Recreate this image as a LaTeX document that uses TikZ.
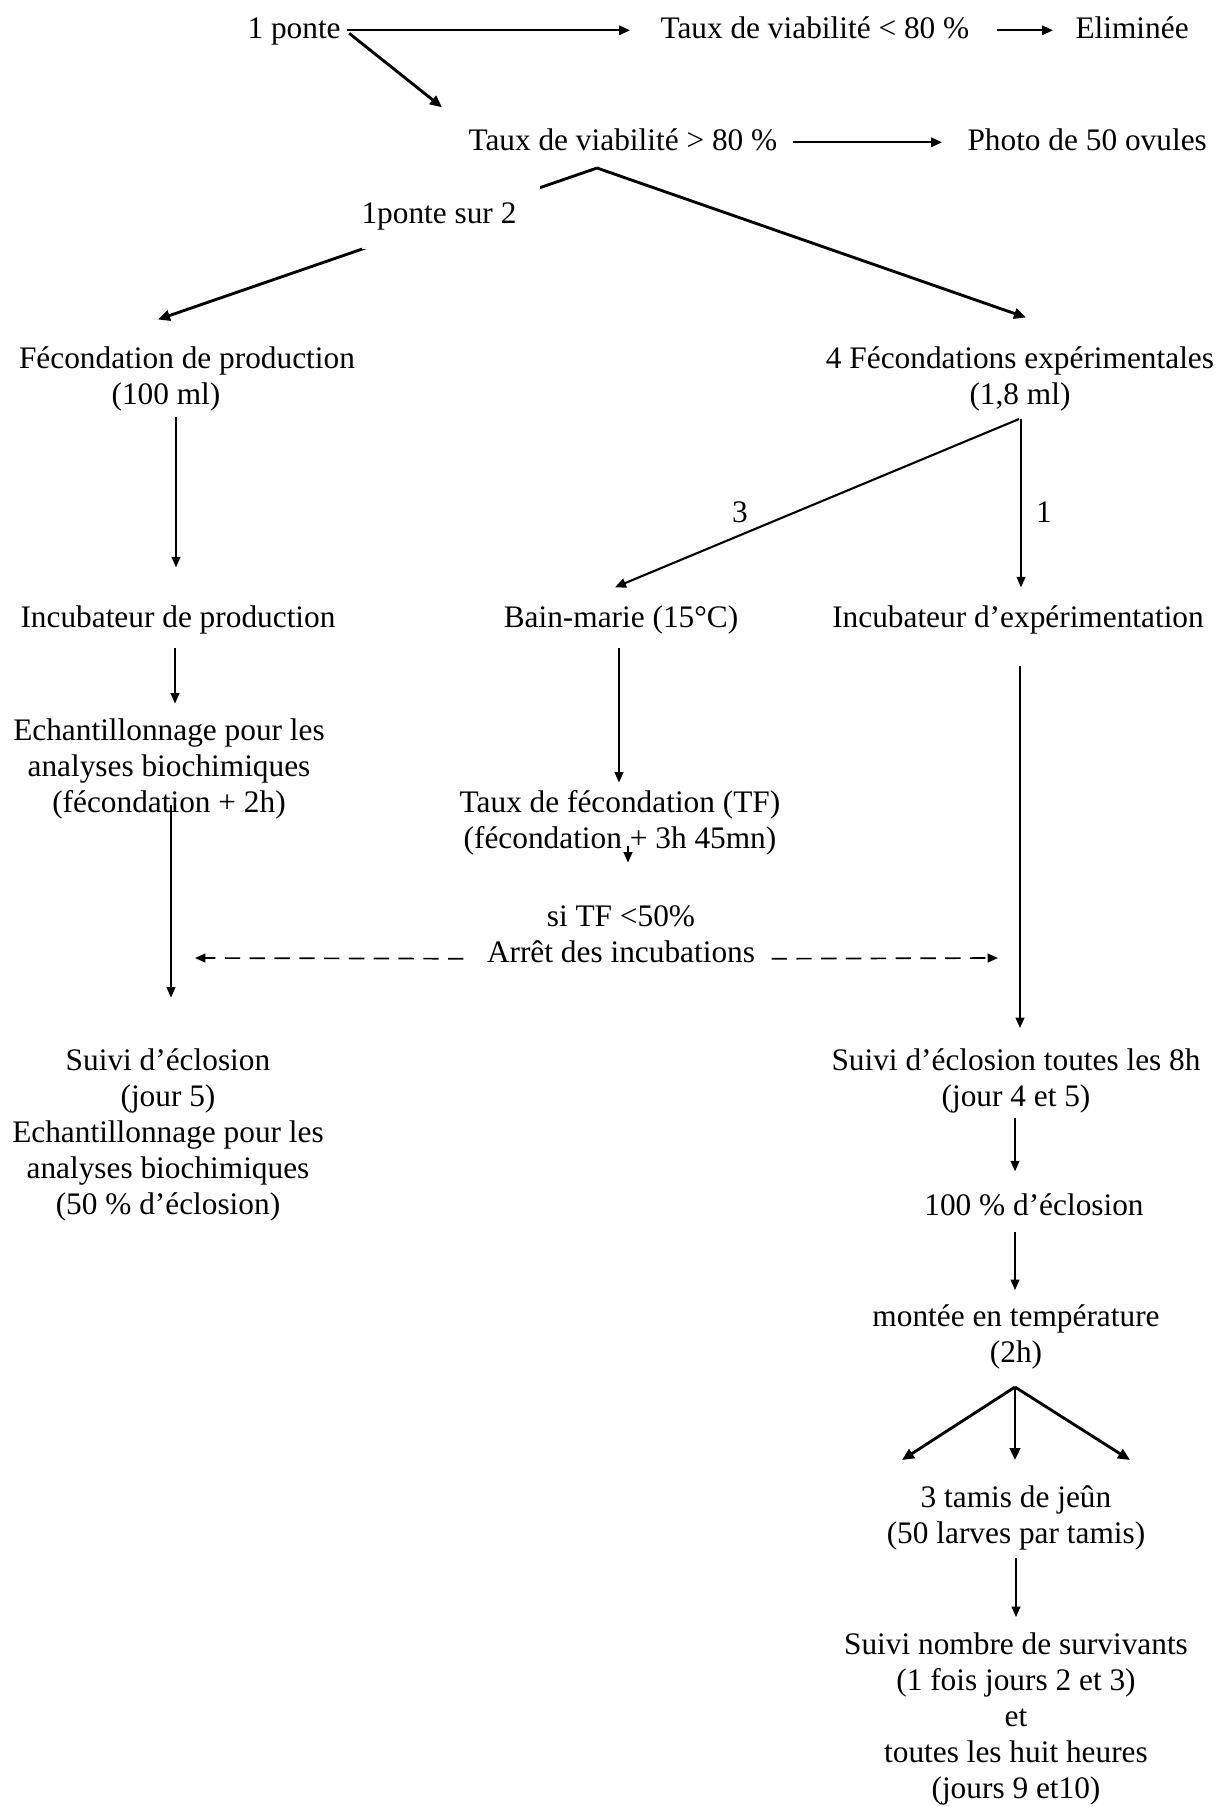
\documentclass[tikz,border=0pt]{standalone}
\usepackage{fontspec}
\setmainfont{Liberation Serif}
\usetikzlibrary{arrows.meta}
\newlength\pxu
\setlength\pxu{0.383pt}
\begin{document}
\begin{tikzpicture}[x=0.383pt,y=-0.383pt,
  every node/.style={font=\fontsize{12}{13.8}\selectfont, inner sep=0pt},
  one/.style={text height=8.5pt, text depth=2.6pt},
  multi/.style={align=center, anchor=north},
  thinarrow/.style={line width=0.6pt, -{Triangle[length=4pt,width=3.4pt]}},
  medarrow/.style={line width=0.8pt, -{Triangle[length=4.2pt,width=3.6pt]}},
  boldarrow/.style={line width=1.1pt, -{Triangle[length=4.6pt,width=4pt]}},
  dashedarrow/.style={line width=0.65pt, dash pattern=on 5.9pt off 3.6pt, -{Triangle[length=4pt,width=3.4pt]}},
]
\fill[white] (0,0) rectangle (1224,1807);
\useasboundingbox (0,0) rectangle (1224,1807);

% nodes
\node[one, anchor=base west] (ponte) at (247,38) {1 ponte};
\node[one, anchor=base west] (tinf) at (660,38) {Taux de viabilité < 80 \%};
\node[one, anchor=base west] (elim) at (1075,38) {Eliminée};
\node[one, anchor=base west] (tsup) at (468,150) {Taux de viabilité > 80 \%};
\node[one, anchor=base west] (photo) at (967,150) {Photo de 50 ovules};
\coordinate (split) at (597,168);
\node[multi] (fprod) at (187,346.5) {Fécondation de production\\\hspace*{-42\pxu}(100 ml)};
\node[multi] (fexp) at (1020,346.5) {4 Fécondations expérimentales\\(1,8 ml)};
\node[one, anchor=base] (iprod) at (178,627) {Incubateur de production};
\node[one, anchor=base] (bain) at (621,627) {Bain-marie (15°C)};
\node[one, anchor=base] (iexp) at (1018,627) {Incubateur d’expérimentation};
\node[multi] (echant) at (169,718.5) {Echantillonnage pour les\\analyses biochimiques\\(fécondation + 2h)};
\node[multi] (tf) at (620,789.5) {Taux de fécondation (TF)\\(fécondation + 3h 45mn)};
\node[multi] (si) at (621,905.5) {si TF <50\%\\Arrêt des incubations};
\node[multi] (suivi1) at (168,1048.5) {Suivi d’éclosion\\(jour 5)\\Echantillonnage pour les\\analyses biochimiques\\(50 \% d’éclosion)};
\node[multi] (suivi2) at (1016,1048.5) {Suivi d’éclosion toutes les 8h\\(jour 4 et 5)};
\node[one, anchor=base] (cent) at (1034,1215) {100 \% d’éclosion};
\node[multi] (montee) at (1016,1304.5) {montée en température\\(2h)};
\node[multi] (tamis) at (1016,1485.5) {3 tamis de jeûn\\(50 larves par tamis)};
\node[multi] (surv) at (1016,1632.5) {Suivi nombre de survivants\\(1 fois jours 2 et 3)\\et\\toutes les huit heures\\(jours 9 et10)};
\node (l3) at (740,512) {3};
\node (l1) at (1044,512) {1};

% connectors
\draw[medarrow] ([shift={(6,0)}]ponte.east) -- ([shift={(-30,0)}]tinf.west);
\draw[boldarrow] ([shift={(8,3)}]ponte.east) -- ([shift={(-26,-20)}]tsup.north west);
\draw[medarrow] ([shift={(27,0)}]tinf.east) -- ([shift={(-22,0)}]elim.west);
\draw[medarrow] ([shift={(15,0)}]tsup.east) -- ([shift={(-25,0)}]photo.west);
\draw[boldarrow] (split) -- ([shift={(-29,-27)}]fprod.north);
\draw[boldarrow] (split) -- ([shift={(6,-29)}]fexp.north);
\node[anchor=base west, fill=white, text height=37\pxu, text depth=26\pxu] (unsur) at (361,223) {\makebox[178\pxu][l]{1ponte sur 2}};

\draw[thinarrow] ([shift={(-11,5)}]fprod.south) -- ([shift={(-2,-37)}]iprod.north);
\draw[medarrow] ([shift={(-1,7)}]fexp.south) -- ([shift={(-6,-17)}]bain.north);
\draw[thinarrow] ([shift={(1,7)}]fexp.south) -- ([shift={(3,-17)}]iexp.north);
\draw[thinarrow] ([shift={(-3,14)}]iprod.south) -- ([shift={(6,-15)}]echant.north);
\draw[thinarrow] ([shift={(2,-15)}]echant.south) -- ([shift={(3,-51)}]suivi1.north);
\draw[thinarrow] ([shift={(-2,14)}]bain.south) -- ([shift={(-1,-7)}]tf.north);
\draw[thinarrow] ([shift={(8,-9)}]tf.south) -- ([shift={(7,-43)}]si.north);
\draw[dashedarrow] ([shift={(-23,-5)}]si.south west) -- ([shift={(27,-90.5)}]suivi1.north);
\draw[dashedarrow] ([shift={(16,-5)}]si.south east) -- ([shift={(-18,-90.5)}]suivi2.north);
\draw[thinarrow] ([shift={(2,32)}]iexp.south) -- ([shift={(4,-20.5)}]suivi2.north);
\draw[thinarrow] ([shift={(-1,4)}]suivi2.south) -- ([shift={(-19,-21)}]cent.north);
\draw[thinarrow] ([shift={(-19,10)}]cent.south) -- ([shift={(-1,-14.5)}]montee.north);
\draw[boldarrow] ([shift={(-1,17)}]montee.south) -- ([shift={(-114,-25.5)}]tamis.north);
\draw[boldarrow] ([shift={(-1,17)}]montee.south) -- ([shift={(-1,-25.5)}]tamis.north);
\draw[boldarrow] ([shift={(-1,17)}]montee.south) -- ([shift={(114,-25.5)}]tamis.north);
\draw[thinarrow] ([shift={(0,7)}]tamis.south) -- ([shift={(0,-15.5)}]surv.north);
\end{tikzpicture}
\end{document}
